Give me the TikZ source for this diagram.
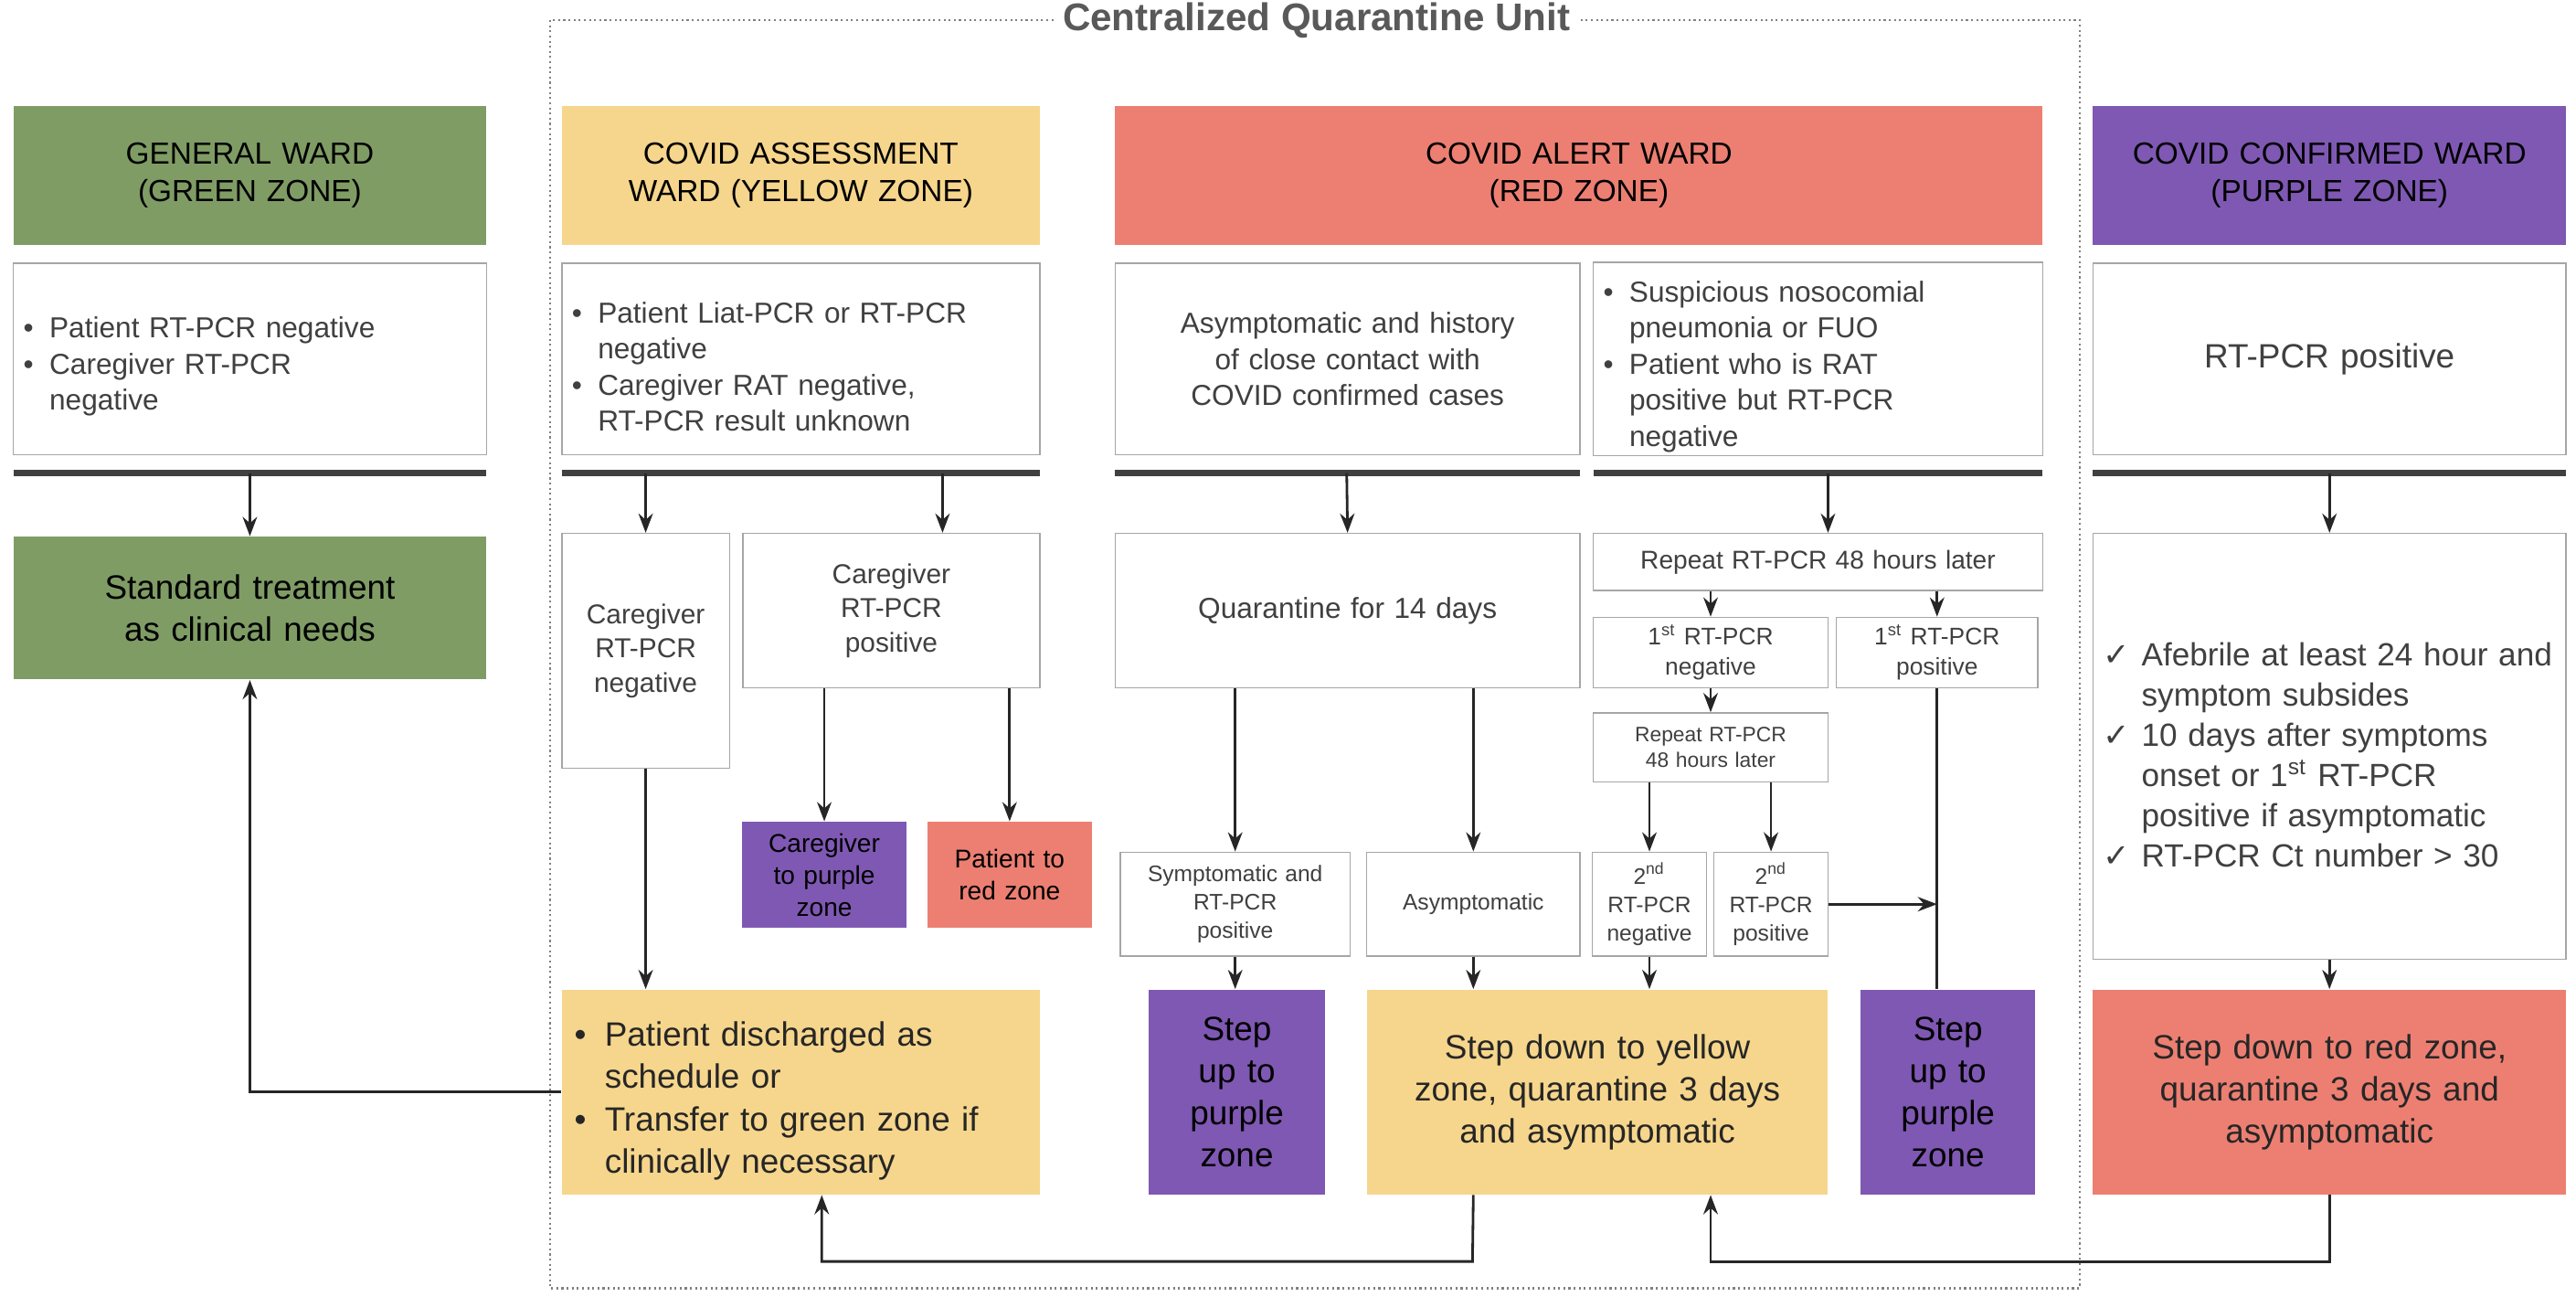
\documentclass[tikz,border=0pt]{standalone}
\usepackage{fontspec}
\setmainfont{Liberation Sans}
\newfontfamily\djv{DejaVu Sans}
\usetikzlibrary{arrows.meta}
\definecolor{cgreen}{HTML}{7F9C65}
\definecolor{cyellow}{HTML}{F6D68C}
\definecolor{cred}{HTML}{EC7F72}
\definecolor{cpurple}{HTML}{7F58B3}
\newcommand\bx[7][]{\node[inner sep=1pt,text width={(#4-#2-12)*0.01835cm},align=center,#1,minimum width={(#4-#2)*0.01835cm},minimum height={(#5-#3)*0.01835cm}] (#6) at ({(#2+#4)/2},{(#3+#5)/2}) {#7};}
\newcommand\bul[1]{\par\hangindent=0.9em\hangafter=1\noindent\makebox[0.9em][l]{\textbullet}#1\par}
\newcommand\ck[1]{\par\hangindent=1.2em\hangafter=1\noindent\makebox[1.2em][l]{\djv ✓}#1\par}
\newcommand\fs[1]{\fontsize{#1}{\dimexpr#1pt*5/4\relax}\selectfont}
\begin{document}
\begin{tikzpicture}[x=0.01835cm,y=-0.01835cm,
  every node/.append style={execute at begin node={\hyphenpenalty=10000\exhyphenpenalty=10000}},
  hdr/.style={font=\fs{9.5},text=black},
  wbox/.style={draw=gray!70,fill=white,text=black!75,font=\fs{9}},
  fb/.style={font=\fs{10.5},text=black!85},
  arr/.style={-{Stealth[length=6pt,width=4.5pt]},line width=0.8pt,black!85},
  ln/.style={line width=0.8pt,black!85},
  bar/.style={line width=2pt,black!75}]
\useasboundingbox (0,0) rectangle (1536,773);
% frame
\draw[densely dotted,gray,line width=0.6pt] (328,12) rectangle (1240,768);
\node[fill=white,font=\bfseries\fontsize{12}{14}\selectfont,text=black!65,inner sep=3pt] (title) at (785,12) {Centralized Quarantine Unit};
% headers
\bx[hdr,fill=cgreen]{8}{63}{290}{146}{hg}{GENERAL WARD\\(GREEN ZONE)}
\bx[hdr,fill=cyellow]{335}{63}{620}{146}{hy}{COVID ASSESSMENT\\WARD (YELLOW ZONE)}
\bx[hdr,fill=cred]{665}{63}{1218}{146}{hr}{COVID ALERT WARD\\(RED ZONE)}
\bx[hdr,fill=cpurple]{1248}{63}{1530}{146}{hp}{COVID CONFIRMED WARD\\(PURPLE ZONE)}
% criteria
\bx[wbox,align=left]{8}{157}{290}{271}{cg}{\bul{Patient RT-PCR negative}\bul{Caregiver RT-PCR\newline negative}}
\bx[wbox,align=left]{335}{157}{620}{271}{cy}{\bul{Patient Liat-PCR or RT-PCR\newline negative}\bul{Caregiver RAT negative,\newline RT-PCR result unknown}}
\bx[wbox]{665}{157}{942}{271}{cr1}{Asymptomatic and history\\of close contact with\\COVID confirmed cases}
\bx[wbox,align=left]{950}{157}{1218}{271}{cr2}{\bul{Suspicious nosocomial\newline pneumonia or FUO}\bul{Patient who is RAT\newline positive but RT-PCR\newline negative}}
\bx[wbox,font=\fs{10.5}]{1248}{157}{1530}{271}{cp}{RT-PCR positive}
% bars
\draw[bar] (8,282) -- (290,282);
\draw[bar] (335,282) -- (620,282);
\draw[bar] (665,282) -- (942,282);
\draw[bar] (950,282) -- (1218,282);
\draw[bar] (1248,282) -- (1530,282);
\coordinate (bg) at (149,282);
\coordinate (by1) at (385,282);
\coordinate (by2) at (562,282);
\coordinate (br1) at (803,282);
\coordinate (br2) at (1090,282);
\coordinate (bp) at (1389,282);
% green
\bx[fb,fill=cgreen,text=black]{8}{320}{290}{405}{st}{Standard treatment\\as clinical needs}
% yellow
\bx[wbox,font=\fs{8.5},text width={94*0.01835cm}]{335}{318}{435}{458}{cneg}{Caregiver\\RT-PCR\\negative}
\bx[wbox,font=\fs{8.5}]{443}{318}{620}{410}{cpos}{Caregiver\\RT-PCR\\positive}
\bx[fill=cpurple,font=\fs{8},text=black,text width={94*0.01835cm}]{443}{490}{540}{553}{ctp}{Caregiver\\to purple\\zone}
\bx[fill=cred,font=\fs{8},text=black,text width={94*0.01835cm}]{553}{490}{651}{553}{ptr}{Patient to\\red zone}
\bx[fb,fill=cyellow,align=left,text width={270*0.01835cm}]{335}{590}{620}{712}{disc}{\bul{Patient discharged as\newline schedule or}\bul{Transfer to green zone if\newline clinically necessary}}
% red left
\bx[wbox,font=\fs{9}]{665}{318}{942}{410}{q}{Quarantine for 14 days}
\bx[wbox,font=\fs{7}]{668}{508}{805}{570}{sym}{Symptomatic and\\RT-PCR\\positive}
\bx[wbox,font=\fs{7}]{815}{508}{942}{570}{asy}{Asymptomatic}
\bx[fb,fill=cpurple,text=black,text width={100*0.01835cm}]{685}{590}{790}{712}{su1}{Step\\up to\\purple\\zone}
\bx[fb,fill=cyellow]{815}{590}{1090}{712}{sdy}{Step down to yellow\\zone, quarantine 3 days\\and asymptomatic}
% red right
\bx[wbox,font=\fs{8}]{950}{318}{1218}{352}{rep1}{Repeat RT-PCR 48 hours later}
\bx[wbox,font=\fs{7.5}]{950}{368}{1090}{410}{n1}{1\textsuperscript{st} RT-PCR\\negative}
\bx[wbox,font=\fs{7.5}]{1095}{368}{1215}{410}{p1}{1\textsuperscript{st} RT-PCR\\positive}
\bx[wbox,font=\fs{6.5}]{950}{425}{1090}{466}{rep2}{Repeat RT-PCR\\48 hours later}
\bx[wbox,font=\fs{7},text width={64*0.01835cm}]{950}{508}{1017}{570}{n2}{2\textsuperscript{nd}\\RT-PCR\\negative}
\bx[wbox,font=\fs{7},text width={64*0.01835cm}]{1022}{508}{1090}{570}{p2}{2\textsuperscript{nd}\\RT-PCR\\positive}
\bx[fb,fill=cpurple,text=black,text width={100*0.01835cm}]{1110}{590}{1213}{712}{su2}{Step\\up to\\purple\\zone}
% purple
\bx[wbox,align=left,font=\fs{10},text width={270*0.01835cm},text=black!75]{1248}{318}{1530}{572}{chk}{\ck{Afebrile at least 24 hour and symptom subsides}\ck{10 days after symptoms onset or 1\textsuperscript{st} RT-PCR positive if asymptomatic}\ck{RT-PCR Ct number > 30}}
\bx[fb,fill=cred]{1248}{590}{1530}{712}{sdr}{Step down to red zone,\\quarantine 3 days and\\asymptomatic}
% arrows
\draw[arr] (bg) -- (st.north);
\draw[arr] (by1) -- (cneg.north);
\draw[arr] (by2) -- (by2 |- cpos.north);
\draw[arr] (br1) -- (q.north);
\draw[arr] (br2) -- (br2 |- rep1.north);
\draw[arr] (bp) -- (chk.north);
\draw[arr] (ctp.north |- cpos.south) -- (ctp.north);
\draw[arr] (ptr.north |- cpos.south) -- (ptr.north);
\draw[arr] (cneg.south) -- (cneg.south |- disc.north);
\draw[arr] (sym.north |- q.south) -- (sym.north);
\draw[arr] (asy.north |- q.south) -- (asy.north);
\draw[arr] (sym.south) -- (sym.south |- su1.north);
\draw[arr] (asy.south) -- (asy.south |- sdy.north);
\draw[arr] (n1.north |- rep1.south) -- (n1.north);
\draw[arr] (p1.north |- rep1.south) -- (p1.north);
\draw[arr] (n1.south) -- (rep2.north);
\draw[arr] (n2.north |- rep2.south) -- (n2.north);
\draw[arr] (p2.north |- rep2.south) -- (p2.north);
\draw[ln] (p1.south) -- (p1.south |- su2.north);
\draw[arr] (p2.east) -- (p1.south |- p2.east);
\draw[arr] (n2.south) -- (n2.south |- sdy.north);
\draw[arr] (chk.south) -- (sdr.north);
% return arrows
\coordinate (ra) at (878,752);
\coordinate (rb) at (490,752);
\coordinate (rc) at (1020,752);
\draw[arr] (disc.west) -| (st.south);
\draw[arr] (asy.south |- sdy.south) -- (ra) -- (rb) -- (rb |- disc.south);
\draw[arr] (sdr.south) -- (sdr.south |- rc) -- (rc) -- (rc |- sdy.south);
\end{tikzpicture}
\end{document}
